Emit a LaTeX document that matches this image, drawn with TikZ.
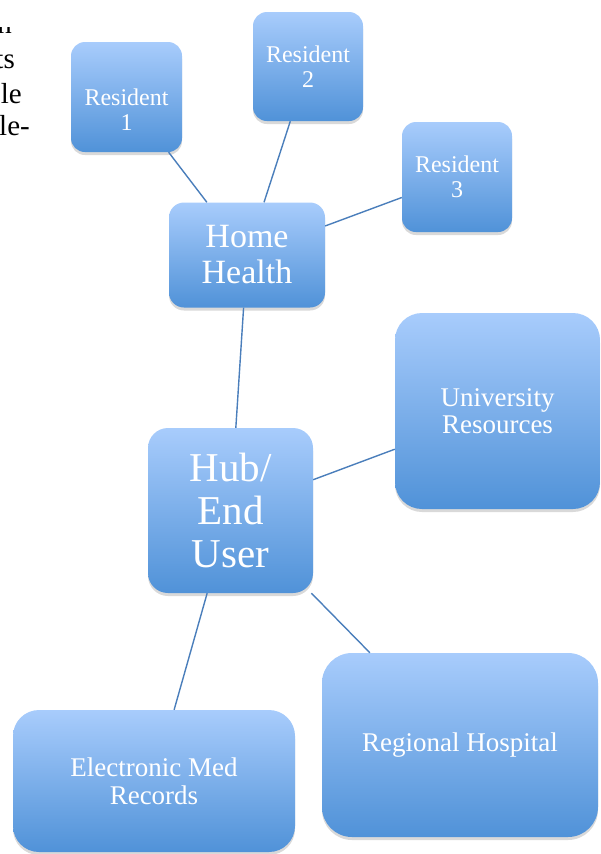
\documentclass[tikz,border=0pt]{standalone}
\usepackage{fontspec}
\setmainfont{Liberation Serif}
\usetikzlibrary{shadows}
\definecolor{boxtop}{RGB}{168,204,252}
\definecolor{boxbot}{RGB}{80,146,216}
\definecolor{linkblue}{RGB}{74,126,187}
\tikzset{
  box/.style={rectangle, inner sep=0pt, top color=boxtop, bottom color=boxbot,
    text=white, align=center,
    drop shadow={opacity=0.3, shadow xshift=0pt, shadow yshift=-3pt}},
  link/.style={draw=linkblue, line width=1.4pt},
  margintext/.style={anchor=base east, inner sep=0pt, font=\fontsize{29}{34}\selectfont},
}
\begin{document}
\begin{tikzpicture}[x=1pt, y=-1pt]
    \useasboundingbox (0,0) rectangle (600,854);
    \begin{scope}
        \clip (0,27) rectangle (60,160);
        \node[margintext] (m1) at (12,33) {n};
        \node[margintext] (m2) at (15,68) {ts};
        \node[margintext] (m3) at (22,103) {le};
        \node[margintext] (m4) at (30,135) {le-};
    \end{scope}
    \node[box, minimum width=111, minimum height=110, rounded corners=14] (res1) at (126.5,97) {};
    \node[text=white, align=center, font=\fontsize{24}{25}\selectfont] (res1txt) at (126.5,110) {Resident\\1};
    \node[box, minimum width=110, minimum height=109, rounded corners=14, font=\fontsize{24}{25}\selectfont] (res2) at (308,66.5) {Resident\\2};
    \node[box, minimum width=110, minimum height=110, rounded corners=14, font=\fontsize{24}{25}\selectfont] (res3) at (457,177) {Resident\\3};
    \node[box, minimum width=156, minimum height=105, rounded corners=15, font=\fontsize{34}{36}\selectfont] (hh) at (247,255) {Home\\Health};
    \node[box, minimum width=165, minimum height=165, rounded corners=20, font=\fontsize{41}{43}\selectfont] (hub) at (230.5,510.5) {Hub/\\End\\User};
    \node[box, minimum width=205, minimum height=196, rounded corners=27, font=\fontsize{27}{27}\selectfont] (uni) at (497.5,411) {University\\Resources};
    \node[box, minimum width=276, minimum height=184, rounded corners=30, font=\fontsize{27}{28}\selectfont] (reg) at (460,745) {Regional Hospital};
    \node[box, minimum width=282, minimum height=142, rounded corners=26, font=\fontsize{27}{28}\selectfont] (emr) at (154,781) {Electronic Med\\Records};
    \draw[link] (res1) -- (hh);
    \draw[link] (res2) -- (hh);
    \draw[link] (res3) -- (hh);
    \draw[link] (hh) -- (hub);
    \draw[link] (hub) -- (uni);
    \draw[link] (hub) -- (reg);
    \draw[link] (hub) -- (emr);
\end{tikzpicture}
\end{document}
